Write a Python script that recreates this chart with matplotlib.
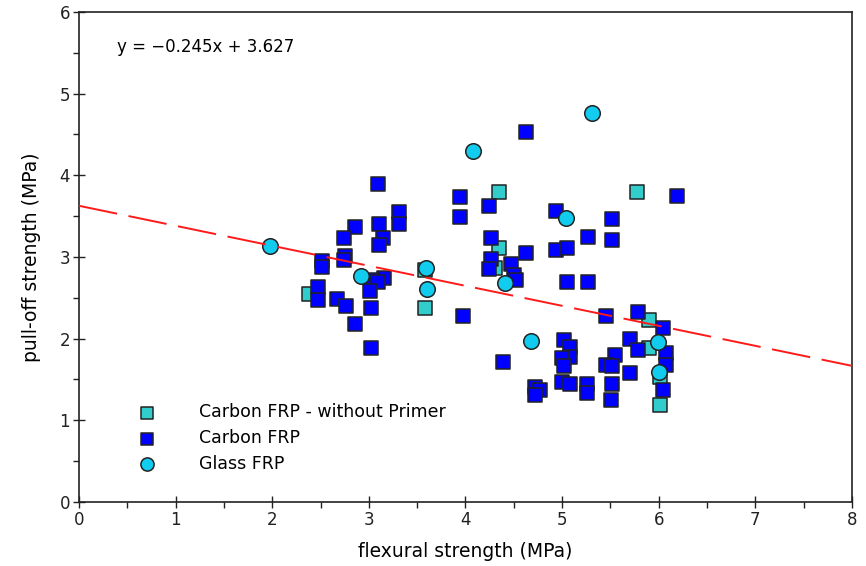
import matplotlib
matplotlib.use("Agg")
import matplotlib.pyplot as plt
import numpy as np
from matplotlib.ticker import MultipleLocator

# ---- data ----
noprimer_x = [2.38, 3.58, 3.58, 4.35, 4.35, 4.31, 5.78, 5.90, 5.90, 6.01, 6.01]
noprimer_y = [2.55, 2.37, 2.84, 3.79, 3.11, 2.86, 3.79, 2.23, 1.89, 1.53, 1.19]

carbon_x = [3.09, 3.94, 3.94, 3.31, 3.31, 2.86, 3.11, 2.74, 3.15, 3.11,
            2.52, 2.52, 2.75, 2.74, 3.16, 3.03, 3.09, 3.01, 2.47, 2.47,
            2.67, 2.76, 3.02, 2.86, 3.02, 3.97,
            4.63, 4.24, 4.94, 5.52, 6.19, 5.27, 5.52, 4.26, 4.63, 4.94,
            5.05, 4.26, 4.24, 4.47, 4.50, 4.52, 5.05, 5.27, 5.45, 5.79,
            6.04, 5.70, 5.79, 6.08, 6.08, 6.04, 5.02, 5.08, 5.08, 5.00,
            5.02, 5.00, 5.08, 5.26, 5.26, 5.55, 5.45, 5.52, 5.52, 5.51,
            5.70, 4.39, 4.72, 4.77, 4.72]
carbon_y = [3.89, 3.73, 3.49, 3.55, 3.41, 3.37, 3.40, 3.23, 3.23, 3.15,
            2.95, 2.88, 3.01, 2.96, 2.74, 2.72, 2.69, 2.58, 2.63, 2.47,
            2.48, 2.40, 2.37, 2.18, 1.89, 2.28,
            4.53, 3.63, 3.56, 3.47, 3.75, 3.25, 3.21, 3.23, 3.05, 3.09,
            3.11, 2.97, 2.85, 2.91, 2.78, 2.72, 2.69, 2.69, 2.28, 2.33,
            2.13, 2.00, 1.86, 1.82, 1.68, 1.37, 1.98, 1.90, 1.78, 1.76,
            1.66, 1.47, 1.44, 1.44, 1.33, 1.80, 1.68, 1.66, 1.45, 1.25,
            1.58, 1.72, 1.41, 1.37, 1.31]

glass_x = [1.98, 2.92, 3.59, 3.60, 4.08, 4.41, 4.68, 5.04, 5.31, 5.99, 6.00]
glass_y = [3.14, 2.77, 2.87, 2.61, 4.30, 2.68, 1.97, 3.48, 4.76, 1.96, 1.59]

slope, intercept = -0.245, 3.627
labels = ["Carbon FRP - without Primer", "Carbon FRP", "Glass FRP"]
equation = "y = \u22120.245x + 3.627"

# ---- figure ----
plt.rcParams['font.family'] = ['DejaVu Sans']
fig = plt.figure(figsize=(8.66, 5.66), dpi=100)
ax = fig.add_axes([0.0912, 0.1131, 0.8926, 0.8657])

edge = "#222222"
ax.scatter(noprimer_x, noprimer_y, marker="s", s=105, c="#33CCCC",
           edgecolors=edge, linewidths=1.1, zorder=2, label=labels[0])
ax.scatter(carbon_x, carbon_y, marker="s", s=105, c="#0000FF",
           edgecolors=edge, linewidths=1.1, zorder=3, label=labels[1])
ax.scatter(glass_x, glass_y, marker="o", s=125, c="#11CCEE",
           edgecolors=edge, linewidths=1.1, zorder=4, label=labels[2])

xl = np.array([0, 8])
ax.plot(xl, slope * xl + intercept, color="#FF1A1A", lw=1.4,
        dashes=(20, 6), zorder=5)

ax.set_xlim(0, 8)
ax.set_ylim(0, 6)
ax.xaxis.set_major_locator(MultipleLocator(1))
ax.yaxis.set_major_locator(MultipleLocator(1))
ax.xaxis.set_minor_locator(MultipleLocator(0.5))
ax.yaxis.set_minor_locator(MultipleLocator(0.5))
ax.tick_params(which="major", direction="inout", length=9, width=1.0,
               labelsize=12, pad=2, colors="#222222")
ax.tick_params(which="minor", direction="out", length=4, width=1.0,
               colors="#222222")
for sp in ax.spines.values():
    sp.set_linewidth(1.2)
    sp.set_color("#222222")

ax.set_xlabel("flexural strength (MPa)", fontsize=13.5, labelpad=9)
ax.set_ylabel("pull-off strength (MPa)", fontsize=13.5, labelpad=13)

ax.text(0.39, 5.57, equation, fontsize=12, va="center", ha="left")

leg = ax.legend(loc="lower left", bbox_to_anchor=(0.068, 0.045),
                frameon=False, fontsize=12.5, handlelength=1.0,
                handletextpad=2.5, labelspacing=0.45, borderaxespad=0,
                markerscale=0.85)

fig.savefig("out.png", dpi=100)
